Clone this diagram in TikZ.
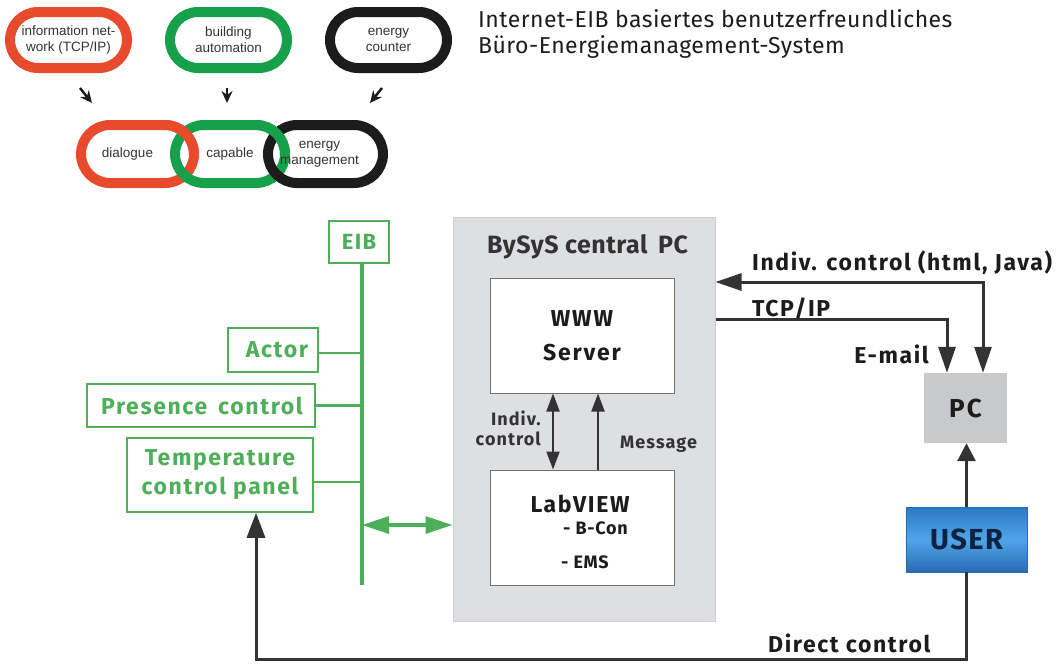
\documentclass[tikz,border=0pt]{standalone}
\usepackage{fontspec}
\setmainfont{Fira Sans}
\newfontfamily\arialfont{Liberation Sans}
\usetikzlibrary{arrows.meta}
\definecolor{ored}{HTML}{E84A2C}
\definecolor{ogreen}{HTML}{17A04B}
\definecolor{oblack}{HTML}{1C1C1C}
\definecolor{eibgreen}{HTML}{4EAE5A}
\definecolor{darkline}{HTML}{333333}
\definecolor{boxgray}{HTML}{DDDFE2}
\definecolor{boxborder}{HTML}{CBCDD0}
\definecolor{pcgray}{HTML}{C8C9CB}
\definecolor{usertop}{HTML}{2C78C4}
\definecolor{usermid}{HTML}{4FA5E8}
\definecolor{userbot}{HTML}{2A6AB4}
\definecolor{usertext}{HTML}{0F2240}
\newcommand{\lsfont}[3]{\fontsize{#1}{#2}\selectfont\bfseries\addfontfeatures{LetterSpace=#3}}
\begin{document}
\begin{tikzpicture}[x=1pt,y=-1pt,
  oval/.style={draw, line width=10pt, rounded corners=28pt, inner sep=0pt,
    align=center, text=darkline, font=\arialfont\fontsize{13.5}{16}\selectfont},
  smallarr/.style={-{Stealth[length=12pt,width=11pt]}, line width=2.5pt, oblack},
  eibbox/.style={draw=eibgreen, line width=1.5pt, inner sep=0pt, text=eibgreen,
    font=\lsfont{23}{29}{7}, align=center},
  busline/.style={eibgreen, line width=4pt},
  darrow/.style={darkline, line width=3pt, -{Triangle[length=26pt,width=17pt]}},
  dbarrow/.style={darkline, line width=3pt, {Triangle[length=26pt,width=17pt]}-{Triangle[length=26pt,width=17pt]}},
  inarrow/.style={darkline, line width=2pt, -{Triangle[length=18pt,width=13pt]}},
  inbarrow/.style={darkline, line width=2pt, {Triangle[length=18pt,width=13pt]}-{Triangle[length=18pt,width=13pt]}},
  whitebox/.style={draw=darkline!70, line width=1pt, fill=white, inner sep=0pt, align=center},
  lbl/.style={inner sep=0pt, text=oblack, font=\lsfont{23}{26}{7}},
  slbl/.style={inner sep=0pt, text=darkline, font=\lsfont{18}{20}{6}, align=right},
]
\useasboundingbox (0,0) rectangle (1056,665);

% ---------- top chain ----------
\node[oval, draw=ored, minimum width=117pt, minimum height=56pt] (info) at (68.5,40) {information net-\\work (TCP/IP)};
\node[oval, draw=ogreen, minimum width=117pt, minimum height=56pt] (bauto) at (228.5,40) {building\\automation};
\node[oval, draw=oblack, minimum width=117pt, minimum height=56pt] (ecount) at (388.5,40) {energy\\counter};

\node[oval, draw=ored, minimum width=113pt, minimum height=58pt, rounded corners=29pt] (dial) at (137.5,154) {\hspace*{-20pt}dialogue};
\node[oval, draw=ogreen, minimum width=110pt, minimum height=58pt, rounded corners=29pt] (capa) at (230,154) {capable};
\node[oval, draw=oblack, minimum width=115pt, minimum height=58pt, rounded corners=29pt] (emgmt) at (325.5,154) {\hspace*{-12pt}energy\\\hspace*{-12pt}management};

% interlocking redraws
\begin{scope}
  \clip (165,112) rectangle (206,154);
  \draw[ored, line width=10pt, rounded corners=29pt] (81,125) rectangle (194,183);
\end{scope}
\begin{scope}
  \clip (256,112) rectangle (297,154);
  \draw[ogreen, line width=10pt, rounded corners=29pt] (175,125) rectangle (285,183);
\end{scope}

\draw[smallarr] ([shift={(11.5,15)}]info.south) -- ([shift={(-45.5,-17)}]dial.north);
\draw[smallarr] ([shift={(-1.5,15)}]bauto.south) -- ([shift={(-3,-17)}]capa.north);
\draw[smallarr] ([shift={(-6.5,15)}]ecount.south) -- ([shift={(44.5,-17)}]emgmt.north);

% ---------- title ----------
\node[anchor=base west, inner sep=0pt, font=\fontsize{23}{27}\selectfont\addfontfeatures{LetterSpace=2}, text=oblack] (title1) at (478,27) {Internet-EIB basiertes benutzerfreundliches};
\node[anchor=base west, inner sep=0pt, font=\fontsize{23}{27}\selectfont\addfontfeatures{LetterSpace=2}, text=oblack] (title2) at (478,53) {Büro-Energiemanagement-System};

% ---------- EIB side ----------
\node[eibbox, minimum width=60pt, minimum height=42pt, font=\lsfont{22}{26}{6}] (eib) at (359,242) {EIB};
\node[eibbox, minimum width=90pt, minimum height=44pt] (actor) at (273,350) {\hspace*{8pt}Actor};
\node[eibbox, minimum width=228pt, minimum height=43pt] (presence) at (201,405.5) {\hspace*{2pt}Presence\, control};
\node[eibbox, minimum width=186pt, minimum height=74pt] (temp) at (220,475) {Temperature\\control panel};

\coordinate (bustop) at (362,263);
\coordinate (busbot) at (362,585);
\coordinate (busarr) at (362,525);
\draw[busline] (bustop) -- (busbot);
\draw[eibgreen, line width=2.5pt] ([yshift=-3pt]actor.east) -- ([yshift=-3pt]actor.east -| bustop);
\draw[eibgreen, line width=2.5pt] (presence.east) -- (presence.east -| bustop);
\draw[eibgreen, line width=2.5pt] ([yshift=-7pt]temp.east) -- ([yshift=-7pt]temp.east -| bustop);

% ---------- central PC ----------
\node[draw=boxborder, fill=boxgray, line width=1pt, minimum width=262pt, minimum height=404pt, inner sep=0pt] (central) at (584,419) {};
\node[lbl, anchor=base, font=\lsfont{25}{28}{2}, text=darkline] (ctitle) at (587.5,253) {BySyS central\, PC};
\node[whitebox, minimum width=184pt, minimum height=115pt, font=\lsfont{23}{34}{8}, text=oblack] (www) at (582,335.5) {WWW\\Server};
\node[whitebox, minimum width=184pt, minimum height=115pt] (labview) at (582,527.5) {};
\node[lbl, anchor=base, text=oblack] (lvtitle) at (580,512) {LabVIEW};
\node[lbl, anchor=base west, font=\lsfont{18}{20}{4}, text=oblack] (bcon) at (563,534) {- B-Con};
\node[lbl, anchor=base west, font=\lsfont{18}{20}{4}, text=oblack] (ems) at (561,568) {- EMS};

\draw[busline, {Triangle[length=27pt,width=17pt]}-{Triangle[length=27pt,width=17pt]}, line width=3.5pt] (busarr) -- (busarr -| central.west);

\draw[inbarrow] ([xshift=-29pt]www.south) -- ([xshift=-29pt]labview.north);
\draw[inarrow] ([xshift=16pt]labview.north) -- ([xshift=16pt]www.south);
\node[slbl, anchor=base east] (indivl) at (541,425) {Indiv.};
\node[slbl, anchor=base east] (indivl2) at (541,445) {control};
\node[slbl, anchor=base west] (msg) at (620,448) {Message};

% ---------- PC / user ----------
\node[fill=pcgray, minimum width=83pt, minimum height=70pt, inner sep=0pt, font=\lsfont{26}{30}{8}, text=oblack] (pc) at (965.5,408) {PC};
\node[draw=userbot, line width=0.8pt, top color=usertop, bottom color=userbot, middle color=usermid,
      minimum width=121pt, minimum height=65pt, inner sep=0pt, font=\lsfont{29}{30}{5}, text=usertext] (user) at (966.5,539.5) {USER};

\coordinate (c1) at (983,282);
\coordinate (c2) at (947,319);
\coordinate (c3) at (256,659);
\draw[dbarrow] (c1 -| central.east) -- (c1) -- (c1 |- pc.north);
\draw[darrow] (c2 -| central.east) -- (c2) -- (c2 |- pc.north);
\draw[darkline, line width=3pt, -{Triangle[length=18pt,width=18pt]}] (user.north) -- (user.north |- pc.south);
\draw[darkline, line width=3pt, -{Triangle[length=25pt,width=18pt]}, line join=miter] (user.south) |- (c3) -- (c3 |- temp.south);

\node[lbl, anchor=base west] (indivc) at (752,270) {Indiv. control (html, Java)};
\node[lbl, anchor=base west] (tcp) at (752,316) {TCP/IP};
\node[lbl, anchor=base east] (email) at (929,363) {E-mail};
\node[lbl, anchor=base west] (direct) at (768,652) {Direct control};
\end{tikzpicture}
\end{document}
